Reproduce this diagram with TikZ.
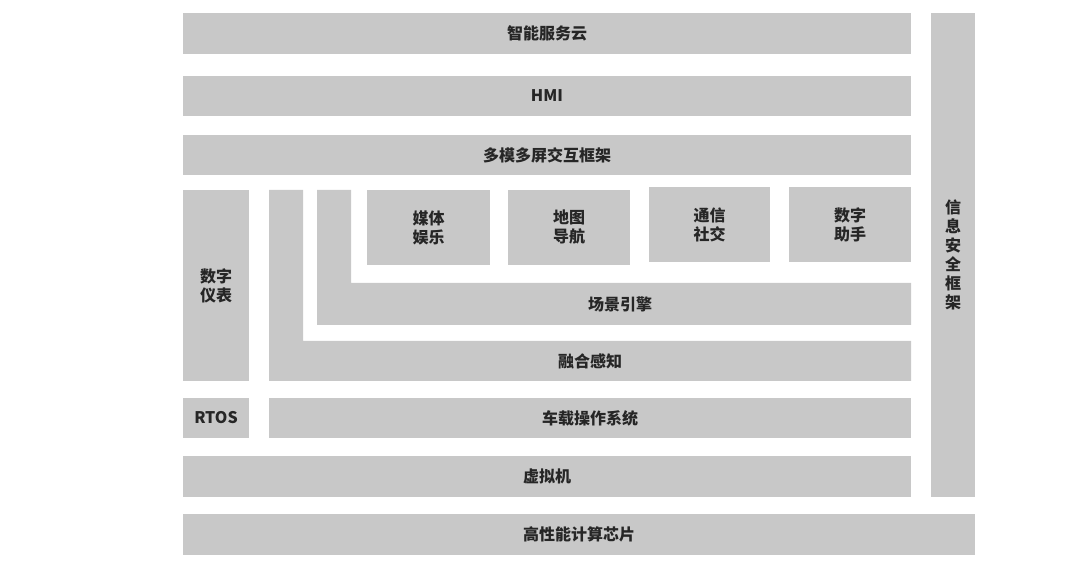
\documentclass[tikz,border=0pt]{standalone}
\usepackage{fontspec}
\setmainfont{Noto Sans CJK SC}
\definecolor{bar}{HTML}{C8C8C8}
\begin{document}
\begin{tikzpicture}[x=1pt,y=-1pt,
  lbl/.style={font=\bfseries\fontsize{16}{19}\selectfont, text=black!85, align=center, inner sep=0pt},
  blk/.style={fill=bar, draw=none}]
\useasboundingbox[fill=white] (0,0) rectangle (1080,577);
\newcommand{\bx}[6]{\fill[blk] (#2,#3) rectangle (#4,#5); \node[lbl] (#1) at ({(#2+#4)/2},{(#3+#5)/2}) {#6};}
\bx{cloud}{183}{13}{911}{54}{智能服务云}
\bx{hmi}{183}{76}{911}{116}{HMI}
\bx{mm}{183}{135}{911}{175}{多模多屏交互框架}
\bx{sec}{931}{13}{975}{497}{信\\息\\安\\全\\框\\架}
\bx{dash}{183}{190}{249}{381}{数字\\仪表}
\bx{rtos}{183}{398}{249}{438}{RTOS}
\bx{os}{269}{398}{911}{438}{车载操作系统}
\bx{vm}{183}{456}{911}{497}{虚拟机}
\bx{chip}{183}{514}{975}{555}{高性能计算芯片}
\fill[blk] (269,190) -- (303,190) -- (303,341) -- (911,341) -- (911,381) -- (269,381) -- cycle;
\node[lbl] (fuse) at (590,361) {融合感知};
\fill[blk] (317,190) -- (351,190) -- (351,283) -- (911,283) -- (911,325) -- (317,325) -- cycle;
\node[lbl] (scene) at (620,304) {场景引擎};
\bx{media}{367}{190}{490}{265}{媒体\\娱乐}
\bx{map}{508}{190}{630}{265}{地图\\导航}
\bx{comm}{649}{187}{770}{262}{通信\\社交}
\bx{asst}{789}{187}{911}{262}{数字\\助手}
\end{tikzpicture}
\end{document}
